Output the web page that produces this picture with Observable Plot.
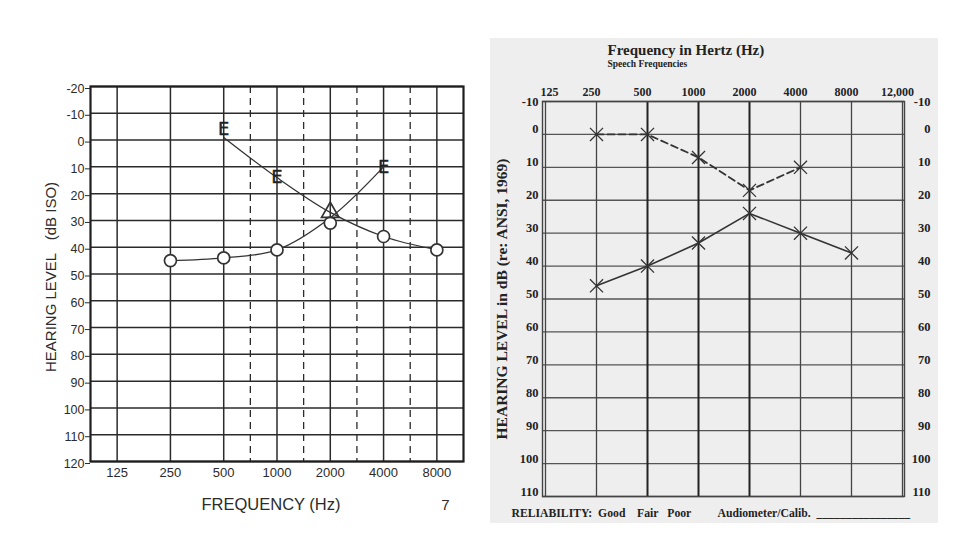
<!DOCTYPE html>
<html><head><meta charset="utf-8">
<script src="https://cdn.jsdelivr.net/npm/d3@7"></script>
<script src="https://cdn.jsdelivr.net/npm/@observablehq/plot@0.6"></script>
<style>
body{margin:0;background:#fff;}
#wrap{position:relative;width:974px;height:558px;overflow:hidden;background:#fff}
#left{position:absolute;left:0;top:0}
#right{position:absolute;left:490px;top:38px}
</style></head><body><div id="wrap"><div id="left"></div><div id="right"></div></div>
<script>
// ---------- Left audiogram (dB ISO) ----------
const leftFreqs = [125, 250, 500, 1000, 2000, 4000, 8000];
const leftHalfOctaves = [707, 1414, 2828, 5657];
const leftLevels = [-20, -10, 0, 10, 20, 30, 40, 50, 60, 70, 80, 90, 100, 110, 120];
const curveAFreq = [500, 1000, 2000, 4000, 8000];
const curveADb = [-1, 14, 27, 36, 41];
const curveBFreq = [250, 500, 1000, 2000, 4000];
const curveBDb = [45, 44, 41, 29, 10];
const circleFreq = [250, 500, 1000, 2000, 4000, 8000];
const circleDb = [45, 44, 41, 31, 36, 41];
const bracketFreq = [500, 1000, 4000];
const bracketDb = [-4, 14, 10];
const triangleFreq = [2000];
const triangleDb = [27];

// ---------- Right audiogram (re: ANSI 1969) ----------
const rightFreqLabels = ["125", "250", "500", "1000", "2000", "4000", "8000", "12,000"];
const speechFreqs = ["500", "1000", "2000"];
const rightLevels = [-10, 0, 10, 20, 30, 40, 50, 60, 70, 80, 90, 100, 110];
const dashedFreq = ["250", "500", "1000", "2000", "4000"];
const dashedDb = [0, 0, 7, 17, 10];
const solidFreq = ["250", "500", "1000", "2000", "4000", "8000"];
const solidDb = [46, 40, 33, 24, 30, 36];

const zip = (xs, ys) => xs.map((x, i) => ({x, y: ys[i]}));
const oct = f => Math.log2(f / 125);   // octaves above 125 Hz
const ink = "#2b2b2b";

const left = Plot.plot({
  width: 480, height: 540,
  marginLeft: 90, marginRight: 17, marginTop: 86, marginBottom: 79,
  style: {fontFamily: "Liberation Sans, Arial, sans-serif", color: ink, background: "transparent"},
  x: {type: "linear", domain: [oct(125) - 0.5, oct(8000) + 0.5]},
  y: {domain: [-20, 120], reverse: true},
  marks: [
    Plot.ruleY(leftLevels, {stroke: ink, strokeWidth: 1.5}),
    Plot.ruleX(leftFreqs, {x: oct, stroke: ink, strokeWidth: 1.5}),
    Plot.ruleX(leftHalfOctaves, {x: oct, stroke: ink, strokeWidth: 1.3, strokeDasharray: "7,5"}),
    Plot.frame({stroke: "#1e1e1e", strokeWidth: 2.2}),
    Plot.axisY({ticks: leftLevels, tickSize: 5, tickPadding: 1, fontSize: 12.5, tickFormat: d => String(d), label: null, dy: 2}),
    Plot.axisX({ticks: leftFreqs.map(oct), tickSize: 0, tickPadding: 6, fontSize: 13, tickFormat: v => String(Math.round(125 * 2 ** v)), label: null}),
    Plot.line(zip(curveAFreq, curveADb), {x: d => oct(d.x), y: "y", curve: "catmull-rom", stroke: "#333", strokeWidth: 1.3}),
    Plot.line(zip(curveBFreq, curveBDb), {x: d => oct(d.x), y: "y", curve: "catmull-rom", stroke: "#333", strokeWidth: 1.3}),
    Plot.dot(zip(circleFreq, circleDb), {x: d => oct(d.x), y: "y", r: 6, stroke: "#333", strokeWidth: 1.7, fill: "white"}),
    Plot.dot(zip(triangleFreq, triangleDb), {x: d => oct(d.x), y: "y", r: 6.5, symbol: "triangle", stroke: "#333", strokeWidth: 1.7, fill: "none"}),
    Plot.text(zip(bracketFreq, bracketDb), {x: d => oct(d.x), y: "y", text: () => "E", fontSize: 18, fontFamily: "DejaVu Sans", fill: "#222", stroke: "#222", strokeWidth: 0.4, lineAnchor: "middle"}),
    Plot.text(["HEARING LEVEL\u00a0\u00a0\u00a0(dB ISO)"], {frameAnchor: "left", rotate: -90, dx: -39, dy: 98, fontSize: 15, letterSpacing: 1, lineAnchor: "middle", textAnchor: "start", fill: ink}),
    Plot.text(["FREQUENCY (Hz)"], {frameAnchor: "bottom", dx: -6, dy: 48, fontSize: 16.5, letterSpacing: 1.6, lineAnchor: "bottom", fill: ink}),
    Plot.text(["7"], {frameAnchor: "bottom-right", dx: -14, dy: 48, fontSize: 15, lineAnchor: "bottom", fill: ink})
  ]
});
document.getElementById("left").appendChild(left);

const serif = "Liberation Serif, Times New Roman, serif";
const yOpts = {tickSize: 0, fontSize: 12.5, fontWeight: "bold", label: null, tickFormat: d => String(d)};
const xOpts = {anchor: "top", tickSize: 0, tickPadding: 6, fontSize: 12, fontWeight: "bold", label: null};
const right = Plot.plot({
  width: 448, height: 485,
  marginLeft: 52, marginRight: 34, marginTop: 63, marginBottom: 27,
  style: {fontFamily: serif, background: "#eeeeee", color: "#222"},
  x: {type: "point", domain: rightFreqLabels, padding: 0},
  y: {domain: [-10, 110], reverse: true},
  marks: [
    Plot.ruleY(rightLevels, {stroke: "#555", strokeWidth: 1.3}),
    Plot.ruleX(rightFreqLabels.filter(f => !speechFreqs.includes(f)), {stroke: "#444", strokeWidth: 1.3}),
    Plot.ruleX(speechFreqs, {stroke: "#222", strokeWidth: 2}),
    Plot.frame({stroke: "#444", strokeWidth: 1.4}),
    Plot.axisX({...xOpts, ticks: rightFreqLabels.slice(0, 1), dx: 4}),
    Plot.axisX({...xOpts, ticks: rightFreqLabels.slice(1), dx: -5}),
    Plot.axisY({...yOpts, anchor: "left", ticks: rightLevels.slice(0, 1), tickPadding: 4, dy: 0}),
    Plot.axisY({...yOpts, anchor: "left", ticks: rightLevels.slice(1), tickPadding: 4, dy: -5}),
    Plot.axisY({...yOpts, anchor: "right", ticks: rightLevels.slice(0, 1), tickPadding: 26, textAnchor: "end", dy: 0}),
    Plot.axisY({...yOpts, anchor: "right", ticks: rightLevels.slice(1), tickPadding: 26, textAnchor: "end", dy: -5}),
    Plot.line(zip(dashedFreq, dashedDb), {x: "x", y: "y", stroke: "#333", strokeWidth: 1.8, strokeDasharray: "7,4"}),
    Plot.line(zip(solidFreq, solidDb), {x: "x", y: "y", stroke: "#333", strokeWidth: 1.6}),
    Plot.dot(zip(dashedFreq, dashedDb), {x: "x", y: "y", symbol: "times", r: 6, stroke: "#333", strokeWidth: 1.3}),
    Plot.dot(zip(solidFreq, solidDb), {x: "x", y: "y", symbol: "times", r: 6, stroke: "#333", strokeWidth: 1.3}),
    Plot.text(["Frequency in Hertz (Hz)"], {frameAnchor: "top-left", dx: 65, dy: -47, textAnchor: "start", lineAnchor: "bottom", fontSize: 15, fontWeight: "bold", fill: "#222"}),
    Plot.text(["Speech Frequencies"], {frameAnchor: "top-left", dx: 65, dy: -35, textAnchor: "start", lineAnchor: "bottom", fontSize: 9.5, fontWeight: "bold", fill: "#222"}),
    Plot.text(["HEARING LEVEL in dB (re: ANSI, 1969)"], {frameAnchor: "left", rotate: -90, dx: -40, fontSize: 15.5, fontWeight: "bold", lineAnchor: "middle", textAnchor: "middle", fill: "#222"}),
    Plot.text(["RELIABILITY:\u00a0\u00a0Good\u00a0\u00a0\u00a0\u00a0Fair\u00a0\u00a0\u00a0Poor\u00a0\u00a0\u00a0\u00a0\u00a0\u00a0\u00a0\u00a0\u00a0Audiometer/Calib.\u00a0\u00a0________________"], {frameAnchor: "bottom-left", dx: -31, dy: 20, textAnchor: "start", lineAnchor: "bottom", fontSize: 11.7, fontWeight: "bold", fill: "#222"})
  ]
});
document.getElementById("right").appendChild(right);
</script></body></html>
